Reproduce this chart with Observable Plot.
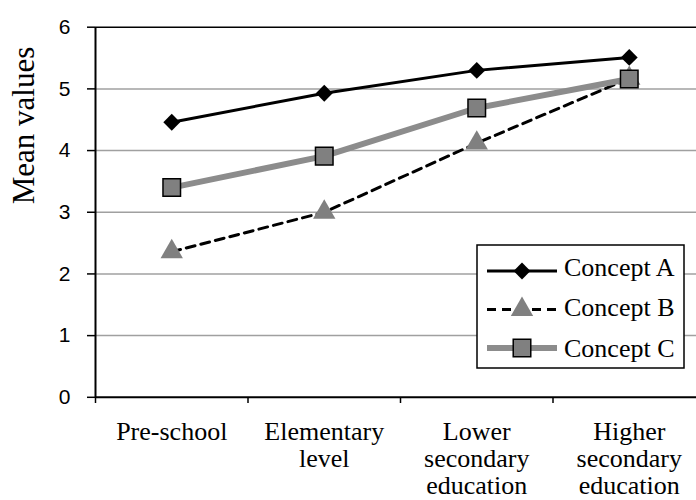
<!DOCTYPE html>
<html>
<head>
<meta charset="utf-8">
<script src="https://cdn.jsdelivr.net/npm/d3@7"></script>
<script src="https://cdn.jsdelivr.net/npm/@observablehq/plot@0.6"></script>
<style>
  html, body { margin: 0; padding: 0; background: #fff; overflow: hidden; }
  #chart svg { overflow: hidden; }
</style>
</head>
<body>
<div id="chart"></div>
<script>
// Education levels along the x axis (line breaks as printed)
const levels = ["Pre-school", "Elementary\nlevel", "Lower\nsecondary\neducation", "Higher\nsecondary\neducation"];
// Mean values per concept, one per level
const conceptA = [4.46, 4.93, 5.30, 5.51];
const conceptB = [2.36, 3.00, 4.12, 5.17];
const conceptC = [3.40, 3.91, 4.69, 5.16];
const seriesNames = ["Concept A", "Concept B", "Concept C"];
const yTicks = [0, 1, 2, 3, 4, 5, 6];
const yTitle = "Mean values";

const serif = "'Liberation Serif', 'Times New Roman', serif";
const sans = "'Liberation Sans', Arial, sans-serif";

const rows = vals => vals.map((v, i) => ({i, v}));
const boundaries = levels.map((_, i) => i - 0.5);
const labelRows = levels.map((l, i) => ({i, l}));

// Series styling: line + marker
const styles = [
  {stroke: "#000", strokeWidth: 3, dash: null, symbol: d3.symbolDiamond2, name: "diamond2", r: 7.6, fill: "#000", mstroke: "none"},
  {stroke: "#000", strokeWidth: 3, dash: "9,6", symbol: d3.symbolTriangle, name: "triangle", r: 8.3, fill: "#808080", mstroke: "none"},
  {stroke: "#8c8c8c", strokeWidth: 6, dash: null, symbol: d3.symbolSquare, name: "square", r: 9.9, fill: "#808080", mstroke: "#000"}
];
const seriesValues = [conceptA, conceptB, conceptC];

const seriesMarks = seriesValues.flatMap((vals, k) => {
  const s = styles[k];
  return [
    Plot.line(rows(vals), {x: "i", y: "v", stroke: s.stroke, strokeWidth: s.strokeWidth, strokeDasharray: s.dash ?? undefined}),
    Plot.dot(rows(vals), {x: "i", y: "v", symbol: s.name, r: s.r, fill: s.fill, stroke: s.mstroke, strokeWidth: 1.5})
  ];
});

const chart = Plot.plot({
  width: 696,
  height: 500,
  marginLeft: 95,
  marginRight: 0,
  marginTop: 27,
  marginBottom: 103,
  x: {type: "linear", domain: [-0.5, levels.length - 0.5], range: [95, 705]},
  y: {domain: [0, 6], range: [396.8, 26.7]},
  style: {background: "white"},
  marks: [
    Plot.ruleY(yTicks.slice(1, -1), {stroke: "#a0a0a0", strokeWidth: 1.5}),
    Plot.ruleY([6], {stroke: "#000", strokeWidth: 1.5}),
    Plot.axisY({ticks: yTicks, tickFormat: d => String(d), tickSize: 8, tickPadding: 17, fontSize: 21, fontFamily: sans, color: "#000", strokeWidth: 1.5, label: null}),
    Plot.axisX({ticks: boundaries, tickSize: 6, tickFormat: () => "", color: "#000", strokeWidth: 1.5, label: null}),
    Plot.text(labelRows, {x: "i", text: "l", frameAnchor: "bottom", lineAnchor: "top", lineHeight: 1.04, dy: 23, fontSize: 26, fontFamily: serif, fill: "#000"}),
    Plot.text([yTitle], {text: d => d, frameAnchor: "top-left", rotate: -90, textAnchor: "middle", lineAnchor: "bottom", dx: 33 - 95, dy: 125 - 27, fontSize: 31, fontFamily: serif, fill: "#000"}),
    Plot.ruleX([-0.5], {stroke: "#000", strokeWidth: 2}),
    Plot.ruleY([0], {stroke: "#000", strokeWidth: 2}),
    ...seriesMarks
  ]
});

document.getElementById("chart").appendChild(chart);

// Legend box inside the plot area
const svg = d3.select(chart);
const lg = svg.append("g").attr("transform", "translate(477,245)");
lg.append("rect").attr("width", 207).attr("height", 123).attr("fill", "#fff").attr("stroke", "#000").attr("stroke-width", 1.5);
const rowY = [26, 64.5, 103];
const textY = [31, 71, 112];
seriesNames.forEach((name, k) => {
  const s = styles[k];
  const g = lg.append("g");
  g.append("line").attr("x1", 10).attr("x2", 80).attr("y1", rowY[k]).attr("y2", rowY[k])
    .attr("stroke", s.stroke).attr("stroke-width", s.strokeWidth).attr("stroke-dasharray", s.dash);
  g.append("path").attr("transform", `translate(45,${rowY[k]})`)
    .attr("d", d3.symbol(s.symbol, Math.PI * s.r * s.r)())
    .attr("fill", s.fill).attr("stroke", s.mstroke).attr("stroke-width", 1.5);
  g.append("text").attr("x", 87).attr("y", textY[k]).text(name)
    .attr("text-anchor", "start")
    .attr("font-family", serif).attr("font-size", 26).attr("fill", "#000");
});
</script>
</body>
</html>
